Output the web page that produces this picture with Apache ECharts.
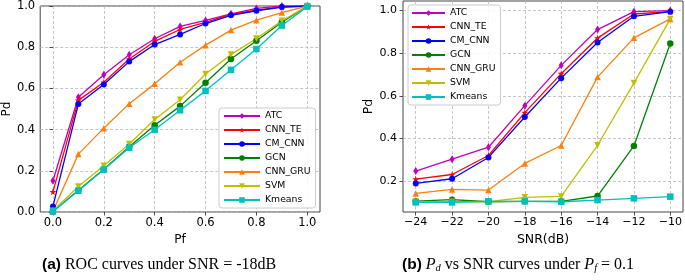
<!DOCTYPE html>
<html>
<head>
<meta charset="utf-8">
<script src="https://cdn.jsdelivr.net/npm/echarts@6/dist/echarts.min.js"></script>
<style>html,body{margin:0;padding:0;background:#fff}#c{width:685px;height:280px}</style>
</head>
<body>
<div id="c"></div>
<script>
// ---- data ----
var seriesNames = ['ATC', 'CNN_TE', 'CM_CNN', 'GCN', 'CNN_GRU', 'SVM', 'Kmeans'];
var pfValues = [0.0, 0.1, 0.2, 0.3, 0.4, 0.5, 0.6, 0.7, 0.8, 0.9, 1.0];
var rocATC    = [0.152, 0.557, 0.666, 0.763, 0.841, 0.901, 0.930, 0.962, 0.988, 1.0, 1.0];
var rocCNNTE  = [0.098, 0.542, 0.630, 0.743, 0.828, 0.886, 0.921, 0.960, 0.980, 0.995, 1.0];
var rocCMCNN  = [0.027, 0.524, 0.619, 0.730, 0.813, 0.862, 0.915, 0.955, 0.977, 0.995, 1.0];
var rocGCN    = [0.003, 0.105, 0.207, 0.317, 0.421, 0.514, 0.627, 0.743, 0.831, 0.921, 1.0];
var rocCNNGRU = [0.003, 0.281, 0.407, 0.526, 0.622, 0.727, 0.810, 0.883, 0.931, 0.968, 1.0];
var rocSVM    = [0.006, 0.124, 0.225, 0.330, 0.449, 0.545, 0.670, 0.764, 0.842, 0.928, 1.0];
var rocKmeans = [0.003, 0.103, 0.206, 0.312, 0.399, 0.494, 0.588, 0.690, 0.791, 0.905, 0.997];

var snrValues = [-24, -22, -20, -18, -16, -14, -12, -10];
var snrATC    = [0.247, 0.303, 0.359, 0.554, 0.743, 0.911, 0.995, 1.0];
var snrCNNTE  = [0.209, 0.231, 0.320, 0.521, 0.704, 0.871, 0.984, 0.995];
var snrCMCNN  = [0.189, 0.211, 0.311, 0.501, 0.683, 0.850, 0.973, 0.995];
var snrGCN    = [0.106, 0.113, 0.103, 0.105, 0.105, 0.130, 0.365, 0.846];
var snrCNNGRU = [0.142, 0.161, 0.158, 0.283, 0.367, 0.688, 0.872, 0.961];
var snrSVM    = [0.103, 0.103, 0.103, 0.124, 0.128, 0.368, 0.660, 0.961];
var snrKmeans = [0.100, 0.100, 0.105, 0.105, 0.103, 0.111, 0.119, 0.127];

var pfTicks = [0.0, 0.2, 0.4, 0.6, 0.8, 1.0];
var pdTicksLeft = [0.0, 0.2, 0.4, 0.6, 0.8, 1.0];
var snrTicks = [-24, -22, -20, -18, -16, -14, -12, -10];
var pdTicksRight = [0.2, 0.4, 0.6, 0.8, 1.0];

var rocData = [rocATC, rocCNNTE, rocCMCNN, rocGCN, rocCNNGRU, rocSVM, rocKmeans];
var snrData = [snrATC, snrCNNTE, snrCMCNN, snrGCN, snrCNNGRU, snrSVM, snrKmeans];

// ---- styles ----
var colors = ['#bf00bf', '#ff0000', '#0000ff', '#008000', '#ff7f0e', '#bfbf00', '#00bfbf'];
var starPath = 'path://M50,0 L61,35 L98,35 L68,57 L79,91 L50,70 L21,91 L32,57 L2,35 L39,35 Z';
var symbols = ['diamond', starPath, 'circle', 'circle', 'triangle', 'triangle', 'rect'];
var symbolSizes = [[5, 8], 7, 6, 6.5, 6.5, 6.5, 6.5];
var symbolRotates = [0, 0, 0, 0, 0, 180, 0];
var FONT = 'DejaVu Sans';

function zip(xs, ys) { return xs.map(function (x, i) { return [x, ys[i]]; }); }

var series = [];
[rocData, snrData].forEach(function (set, g) {
  var xs = g === 0 ? pfValues : snrValues;
  set.forEach(function (ys, i) {
    series.push({
      name: seriesNames[i], type: 'line', xAxisIndex: g, yAxisIndex: g,
      data: zip(xs, ys), color: colors[i],
      symbol: symbols[i], symbolSize: symbolSizes[i], symbolRotate: symbolRotates[i],
      showAllSymbol: true, animation: false,
      lineStyle: { width: 1.3, color: colors[i] },
      itemStyle: { color: colors[i] }
    });
  });
});

function splitLine() { return { show: true, lineStyle: { color: '#b8b8b8', type: [3, 2], width: 0.8 } }; }
function tick(vals) { return { show: true, inside: false, length: 3.5, customValues: vals, lineStyle: { color: '#222', width: 0.8 } }; }

var minusFmt = function (v) { return String(v).replace('-', '\u2212'); };

var option = {
  backgroundColor: '#fff',
  animation: false,
  grid: [
    { left: 38, top: 5, width: 282, height: 207, show: true, borderColor: '#444', borderWidth: 1, backgroundColor: 'transparent' },
    { left: 403, top: 1, width: 280, height: 211, show: true, borderColor: '#444', borderWidth: 1, backgroundColor: 'transparent' }
  ],
  xAxis: [
    { type: 'value', gridIndex: 0, min: -0.05, max: 1.05, axisLine: { show: false },
      axisTick: tick(pfTicks),
      axisLabel: { customValues: pfTicks, formatter: function (v) { return v.toFixed(1); }, margin: 5, color: '#000', fontFamily: FONT, fontSize: 11.5 },
      splitLine: splitLine(),
      name: 'Pf', nameLocation: 'middle', nameGap: 19, nameTextStyle: { fontFamily: FONT, fontSize: 12, color: '#000' } },
    { type: 'value', gridIndex: 1, min: -24.7, max: -9.3, axisLine: { show: false },
      axisTick: tick(snrTicks),
      axisLabel: { customValues: snrTicks, formatter: minusFmt, margin: 5, color: '#000', fontFamily: FONT, fontSize: 11 },
      splitLine: splitLine(),
      name: 'SNR(dB)', nameLocation: 'middle', nameGap: 19, nameTextStyle: { fontFamily: FONT, fontSize: 12.5, color: '#000' } }
  ],
  yAxis: [
    { type: 'value', gridIndex: 0, min: 0, max: 1, axisLine: { show: false },
      axisTick: tick(pdTicksLeft),
      axisLabel: { customValues: pdTicksLeft, formatter: function (v) { return v.toFixed(1); }, margin: 5, color: '#000', fontFamily: FONT, fontSize: 11.5 },
      splitLine: splitLine(),
      name: 'Pd', nameLocation: 'middle', nameGap: 22, nameTextStyle: { fontFamily: FONT, fontSize: 12, color: '#000' } },
    { type: 'value', gridIndex: 1, min: 0.055, max: 1.045, axisLine: { show: false },
      axisTick: tick(pdTicksRight),
      axisLabel: { customValues: pdTicksRight, formatter: function (v) { return v.toFixed(1); }, margin: 6, color: '#000', fontFamily: FONT, fontSize: 11 },
      splitLine: splitLine(),
      name: 'Pd', nameLocation: 'middle', nameGap: 27, nameTextStyle: { fontFamily: FONT, fontSize: 12.5, color: '#000' } }
  ],
  legend: [
    { data: seriesNames, orient: 'vertical', left: 219, top: 108, itemWidth: 36, itemHeight: 7, itemGap: 4,
      padding: [3, 5, 3, 4], backgroundColor: 'rgba(255,255,255,0.85)', borderColor: '#ccc', borderWidth: 1, borderRadius: 3,
      textStyle: { fontFamily: FONT, fontSize: 9.3, color: '#000', lineHeight: 10 } },
    { data: seriesNames, orient: 'vertical', left: 408, top: 5, itemWidth: 33, itemHeight: 7, itemGap: 4,
      padding: [3, 5, 3, 3], backgroundColor: 'rgba(255,255,255,0.85)', borderColor: '#ccc', borderWidth: 1, borderRadius: 3,
      textStyle: { fontFamily: FONT, fontSize: 9.3, color: '#000', lineHeight: 10 } }
  ],
  graphic: [
    { type: 'text', left: 42, top: 257, style: {
        text: '{b|(a)}{t| ROC curves under SNR = -18dB}',
        rich: {
          b: { fontFamily: 'Liberation Sans', fontWeight: 'bold', fontSize: 15.5, fill: '#000' },
          t: { fontFamily: 'Liberation Serif', fontSize: 16, fill: '#000' }
        } } },
    { type: 'text', left: 402, top: 257, style: {
        text: '{b|(b)}{t| }{i|P}{s|d}{t| vs SNR curves under }{i|P}{s|f}{t| = 0.1}',
        rich: {
          b: { fontFamily: 'Liberation Sans', fontWeight: 'bold', fontSize: 15.5, fill: '#000' },
          t: { fontFamily: 'Liberation Serif', fontSize: 16, fill: '#000' },
          i: { fontFamily: 'Liberation Serif', fontStyle: 'italic', fontSize: 16, fill: '#000' },
          s: { fontFamily: 'Liberation Serif', fontStyle: 'italic', fontSize: 10.5, fill: '#000', padding: [7, 0, 0, 0] }
        } } }
  ],
  series: series
};

var chart = echarts.init(document.getElementById('c'), null, { renderer: 'canvas' });
chart.setOption(option);
</script>
</body>
</html>
